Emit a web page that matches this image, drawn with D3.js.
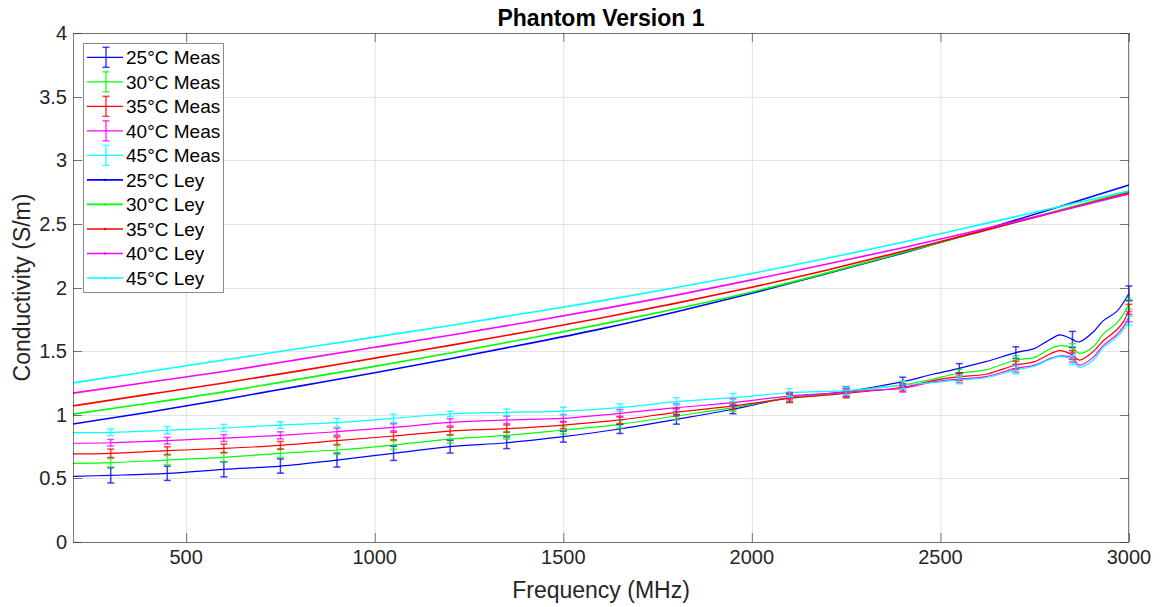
<!DOCTYPE html>
<html><head><meta charset="utf-8">
<script src="https://cdn.jsdelivr.net/npm/d3@7"></script>
<style>
html,body{margin:0;padding:0;background:#fff;}
svg{display:block;font-family:"Liberation Sans",Arial,Helvetica,sans-serif;}
</style></head>
<body><svg id="chart" width="1161" height="607"></svg>
<script>
// ---------------- data ----------------
const seriesLabels = ["25°C", "30°C", "35°C", "40°C", "45°C"];
const seriesColors = ["#0000ff", "#00ff00", "#ff0000", "#ff00ff", "#00ffff"];

const xTicks = [500, 1000, 1500, 2000, 2500, 3000];
const yTicks = [0, 0.5, 1, 1.5, 2, 2.5, 3, 3.5, 4];

// Ley model curves
const leyFreq = [200, 400, 600, 800, 1000, 1200, 1400, 1600, 1800, 2000, 2200, 2400, 2600, 2800, 3000];
const ley25 = [0.927, 1.020, 1.120, 1.225, 1.330, 1.440, 1.555, 1.675, 1.810, 1.955, 2.110, 2.270, 2.440, 2.620, 2.806];
const ley30 = [1.005, 1.090, 1.180, 1.280, 1.380, 1.485, 1.595, 1.710, 1.833, 1.965, 2.115, 2.275, 2.435, 2.595, 2.755];
const ley35 = [1.070, 1.160, 1.250, 1.345, 1.445, 1.545, 1.650, 1.760, 1.877, 2.002, 2.137, 2.285, 2.435, 2.590, 2.745];
const ley40 = [1.170, 1.255, 1.340, 1.435, 1.530, 1.625, 1.725, 1.830, 1.940, 2.060, 2.185, 2.312, 2.450, 2.590, 2.735];
const ley45 = [1.250, 1.340, 1.430, 1.520, 1.610, 1.702, 1.798, 1.895, 2.000, 2.110, 2.230, 2.355, 2.490, 2.625, 2.760];

// Measured curves
const measFreq = [200, 300, 450, 600, 750, 900, 1050, 1200, 1350, 1500, 1650, 1800, 1950, 2100, 2250, 2320, 2400, 2480, 2550, 2620, 2700, 2750, 2790, 2817, 2850, 2868, 2905, 2932, 2967, 2985, 3000];
const meas25 = [0.516, 0.524, 0.540, 0.571, 0.597, 0.644, 0.697, 0.749, 0.780, 0.828, 0.888, 0.964, 1.043, 1.134, 1.181, 1.216, 1.260, 1.318, 1.365, 1.417, 1.488, 1.522, 1.590, 1.627, 1.592, 1.572, 1.650, 1.740, 1.810, 1.880, 1.954];
const meas30 = [0.618, 0.623, 0.644, 0.665, 0.697, 0.723, 0.762, 0.809, 0.838, 0.880, 0.925, 0.990, 1.056, 1.134, 1.176, 1.208, 1.234, 1.281, 1.326, 1.352, 1.430, 1.451, 1.517, 1.543, 1.525, 1.482, 1.535, 1.635, 1.718, 1.790, 1.870];
const meas35 = [0.692, 0.697, 0.718, 0.736, 0.760, 0.796, 0.833, 0.872, 0.891, 0.919, 0.959, 1.019, 1.069, 1.129, 1.168, 1.189, 1.216, 1.268, 1.299, 1.318, 1.391, 1.417, 1.477, 1.504, 1.470, 1.430, 1.496, 1.582, 1.666, 1.730, 1.828];
const meas40 = [0.776, 0.780, 0.796, 0.817, 0.838, 0.867, 0.901, 0.940, 0.959, 0.972, 1.011, 1.056, 1.095, 1.147, 1.176, 1.194, 1.208, 1.258, 1.281, 1.299, 1.365, 1.390, 1.441, 1.462, 1.448, 1.390, 1.451, 1.545, 1.627, 1.690, 1.771];
const meas45 = [0.859, 0.862, 0.878, 0.896, 0.919, 0.938, 0.972, 1.006, 1.019, 1.029, 1.056, 1.103, 1.134, 1.173, 1.189, 1.208, 1.234, 1.252, 1.273, 1.291, 1.352, 1.383, 1.435, 1.456, 1.430, 1.372, 1.430, 1.530, 1.608, 1.670, 1.739];

// Error bars (half-lengths) at these frequencies
const errFreq = [300, 450, 600, 750, 900, 1050, 1200, 1350, 1500, 1650, 1800, 1950, 2100, 2250, 2400, 2550, 2700, 2850, 3000];
const err25 = [0.060, 0.056, 0.059, 0.056, 0.055, 0.056, 0.050, 0.046, 0.043, 0.035, 0.038, 0.035, 0.033, 0.040, 0.035, 0.037, 0.046, 0.063, 0.058];
const err30 = [0.034, 0.036, 0.035, 0.032, 0.035, 0.034, 0.030, 0.030, 0.030, 0.030, 0.030, 0.030, 0.030, 0.030, 0.030, 0.030, 0.032, 0.035, 0.040];
const err35 = [0.033, 0.030, 0.033, 0.030, 0.030, 0.030, 0.030, 0.029, 0.028, 0.028, 0.028, 0.028, 0.033, 0.035, 0.030, 0.030, 0.030, 0.035, 0.040];
const err40 = [0.026, 0.026, 0.027, 0.028, 0.028, 0.028, 0.028, 0.029, 0.030, 0.030, 0.030, 0.030, 0.030, 0.030, 0.030, 0.030, 0.030, 0.035, 0.040];
const err45 = [0.026, 0.029, 0.028, 0.026, 0.033, 0.033, 0.022, 0.026, 0.030, 0.030, 0.031, 0.033, 0.033, 0.030, 0.030, 0.030, 0.030, 0.035, 0.035];

const titleText = "Phantom Version 1";
const xLabel = "Frequency (MHz)";
const yLabel = "Conductivity (S/m)";

// ---------------- drawing ----------------
const leyAll = [ley25, ley30, ley35, ley40, ley45];
const measAll = [meas25, meas30, meas35, meas40, meas45];
const errAll = [err25, err30, err35, err40, err45];

const svg = d3.select("#chart");
const L = 73, R = 1129, T = 33, B = 542;
const x = d3.scaleLinear().domain([200, 3000]).range([L, R]);
const y = d3.scaleLinear().domain([0, 4]).range([B, T]);
const textColor = "#262626";
const axisColor = "#262626";

// grid
const grid = svg.append("g");
grid.selectAll("line.gx").data(xTicks).join("line")
  .attr("x1", d => x(d) + 0.5).attr("x2", d => x(d) + 0.5).attr("y1", T).attr("y2", B)
  .attr("stroke", "#e3e3e3").attr("stroke-width", 1);
grid.selectAll("line.gy").data(yTicks).join("line")
  .attr("y1", d => Math.round(y(d)) + 0.5).attr("y2", d => Math.round(y(d)) + 0.5).attr("x1", L).attr("x2", R)
  .attr("stroke", "#e3e3e3").attr("stroke-width", 1);

// clip
svg.append("clipPath").attr("id", "clip").append("rect")
  .attr("x", L).attr("y", T).attr("width", R - L).attr("height", B - T);
const plot = svg.append("g").attr("clip-path", "url(#clip)");

// measured lines
const measLine = d3.line().x((d, i) => x(measFreq[i])).y(d => y(d)).curve(d3.curveCatmullRom.alpha(0.5));
measAll.forEach((s, k) => {
  plot.append("path").datum(s).attr("d", measLine)
    .attr("fill", "none").attr("stroke", seriesColors[k]).attr("stroke-width", 1.2);
});
// error bars
const capW = 3.5;
measAll.forEach((s, k) => {
  const g = svg.append("g").attr("stroke", seriesColors[k]).attr("stroke-width", 1.5).attr("stroke-opacity", 0.75);
  errFreq.forEach((f, i) => {
    const idx = measFreq.indexOf(f);
    const c = s[idx], e = errAll[k][i];
    const xp = x(f);
    g.append("line").attr("x1", xp).attr("x2", xp).attr("y1", y(c - e)).attr("y2", y(c + e));
    g.append("line").attr("x1", xp - capW).attr("x2", xp + capW).attr("y1", y(c - e)).attr("y2", y(c - e));
    g.append("line").attr("x1", xp - capW).attr("x2", xp + capW).attr("y1", y(c + e)).attr("y2", y(c + e));
  });
});

// Ley lines
const leyLine = d3.line().x((d, i) => x(leyFreq[i])).y(d => y(d)).curve(d3.curveNatural);
leyAll.forEach((s, k) => {
  plot.append("path").datum(s).attr("d", leyLine)
    .attr("fill", "none").attr("stroke", seriesColors[k]).attr("stroke-width", 1.6);
});

// axes box
const axG = svg.append("g").attr("fill", "none").attr("stroke", axisColor).attr("stroke-width", 1).attr("stroke-opacity", 0.6);
axG.append("rect").attr("x", L + 0.5).attr("y", T + 0.5).attr("width", R - L - 1).attr("height", B - T);
const tickLen = 9;
xTicks.forEach(t => {
  axG.append("line").attr("x1", x(t) + 0.5).attr("x2", x(t) + 0.5).attr("y1", B).attr("y2", B - tickLen);
  axG.append("line").attr("x1", x(t) + 0.5).attr("x2", x(t) + 0.5).attr("y1", T).attr("y2", T + tickLen);
});
yTicks.forEach(t => {
  const yy = Math.round(y(t)) + 0.5;
  axG.append("line").attr("x1", L).attr("x2", L + tickLen).attr("y1", yy).attr("y2", yy);
  axG.append("line").attr("x1", R).attr("x2", R - tickLen).attr("y1", yy).attr("y2", yy);
});

// tick labels
svg.append("g").selectAll("text").data(xTicks).join("text")
  .attr("x", d => x(d)).attr("y", 564).attr("text-anchor", "middle")
  .attr("font-size", 20).attr("fill", textColor).text(d => d);
svg.append("g").selectAll("text").data(yTicks).join("text")
  .attr("x", 67).attr("y", d => y(d) + 7).attr("text-anchor", "end")
  .attr("font-size", 20).attr("fill", textColor).text(d => d);

// labels
svg.append("text").attr("x", (L + R) / 2).attr("y", 598).attr("text-anchor", "middle")
  .attr("font-size", 23).attr("fill", textColor).text(xLabel);
svg.append("text").attr("transform", `translate(30,${(T + B) / 2}) rotate(-90)`).attr("text-anchor", "middle")
  .attr("font-size", 23).attr("fill", textColor).text(yLabel);
svg.append("text").attr("x", (L + R) / 2).attr("y", 26).attr("text-anchor", "middle")
  .attr("font-size", 23).attr("font-weight", "bold").attr("fill", "#000").text(titleText);

// legend
const lg = svg.append("g");
lg.append("rect").attr("x", 83.5).attr("y", 43.5).attr("width", 140).attr("height", 249)
  .attr("fill", "#fff").attr("stroke", "#8a8a8a").attr("stroke-width", 1);
const entries = [];
seriesLabels.forEach((s, k) => entries.push({ label: s + " Meas", color: seriesColors[k], meas: true }));
seriesLabels.forEach((s, k) => entries.push({ label: s + " Ley", color: seriesColors[k], meas: false }));
entries.forEach((e, i) => {
  const cy = 57.3 + i * 24.52;
  lg.append("line").attr("x1", 87).attr("x2", 123).attr("y1", cy).attr("y2", cy)
    .attr("stroke", e.color).attr("stroke-width", e.meas ? 1.2 : 1.6);
  if (e.meas) {
    const g = lg.append("g").attr("stroke", e.color).attr("stroke-width", 1.5).attr("stroke-opacity", 0.75);
    g.append("line").attr("x1", 106).attr("x2", 106).attr("y1", cy - 10).attr("y2", cy + 10);
    g.append("line").attr("x1", 102.5).attr("x2", 109.5).attr("y1", cy - 10).attr("y2", cy - 10);
    g.append("line").attr("x1", 102.5).attr("x2", 109.5).attr("y1", cy + 10).attr("y2", cy + 10);
  } else {
    lg.append("circle").attr("cx", 105).attr("cy", cy).attr("r", 1.2).attr("fill", e.color);
  }
  lg.append("text").attr("x", 126).attr("y", cy + 7).attr("font-size", 19).attr("fill", "#000").text(e.label);
});
</script></body></html>
